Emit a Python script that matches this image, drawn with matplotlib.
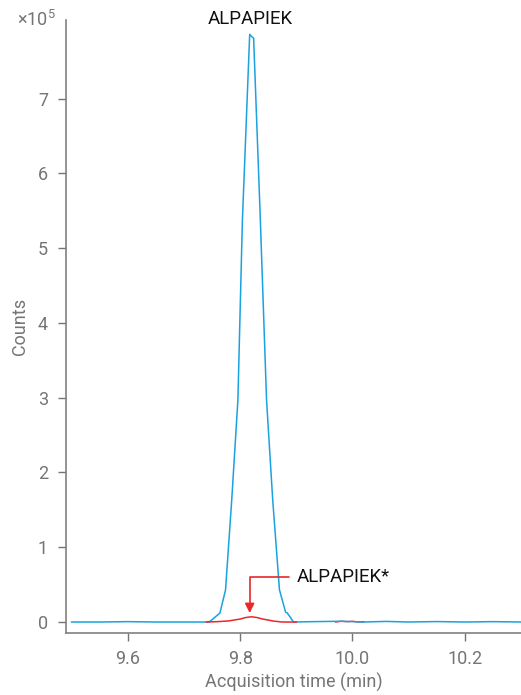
import numpy as np
import matplotlib.pyplot as plt

plt.rcParams['font.family'] = ['Roboto', 'DejaVu Sans']
plt.rcParams['mathtext.default'] = 'regular'

# blue trace (counts in units of 1e5)
t_blue = [9.50, 9.55, 9.60, 9.65, 9.70, 9.745, 9.764, 9.774, 9.785, 9.796, 9.804,
          9.817, 9.822, 9.824, 9.836, 9.847, 9.858, 9.870, 9.881, 9.884, 9.895,
          9.93, 9.98, 10.02, 10.06, 10.10, 10.15, 10.20, 10.25, 10.30]
v_blue = [0.0, 0.0, 0.005, 0.0, 0.0, 0.0, 0.12, 0.43, 1.63, 2.97, 5.37,
          7.86, 7.82, 7.81, 5.37, 2.97, 1.63, 0.43, 0.13, 0.12, 0.0,
          0.005, 0.01, 0.0, 0.008, 0.0, 0.006, 0.0, 0.005, 0.0]

# red trace
t_red = [9.74, 9.76, 9.78, 9.80, 9.81, 9.82, 9.83, 9.84, 9.86, 9.875, 9.89, 9.90]
v_red = [0.0, 0.005, 0.015, 0.04, 0.06, 0.07, 0.06, 0.04, 0.012, 0.0, 0.0, 0.0]
t_red2 = [9.97, 9.98, 9.99, 10.00, 10.01, 10.02]
v_red2 = [0.0, 0.01, 0.005, 0.01, 0.0, 0.005]

xticks = [9.6, 9.8, 10.0, 10.2]
yticks = [0, 1, 2, 3, 4, 5, 6, 7]

blue = '#18a2df'
red = '#e8282b'
gray = '#757575'

fig = plt.figure(figsize=(5.21, 6.95), dpi=100)
ax = fig.add_axes([0.1267, 0.0892, 0.8733, 0.8818])

ax.plot(t_blue, v_blue, color=blue, lw=1.1, zorder=2)
ax.plot(t_red, v_red, color=red, lw=1.1, zorder=3)
ax.plot(t_red2, v_red2, color=red, lw=1.0, zorder=1)

ax.set_xlim(9.49, 10.30)
ax.set_ylim(-0.147, 8.05)
ax.set_xticks(xticks)
ax.set_xticklabels(['%.1f' % x for x in xticks])
ax.set_yticks(yticks)

for s in ['top', 'right']:
    ax.spines[s].set_visible(False)
for s in ['left', 'bottom']:
    ax.spines[s].set_color('#808080')
    ax.spines[s].set_linewidth(1.2)
ax.tick_params(colors=gray, labelsize=13, length=6, width=1, direction='out')
ax.tick_params(axis='x', pad=6)
ax.tick_params(axis='y', pad=7)

ax.set_xlabel('Acquisition time (min)', fontsize=13, color=gray, labelpad=4)
ax.set_ylabel('Counts', fontsize=13, color=gray, labelpad=6)
ax.text(-0.022, 1.0, '×10$^{5}$', transform=ax.transAxes, ha='right', va='center',
        fontsize=13, color=gray)

ax.text(9.818, 7.95, 'ALPAPIEK', ha='center', va='bottom', fontsize=13.5,
        color='#111111', clip_on=False)
ax.annotate('ALPAPIEK*', xy=(9.817, 0.12), xytext=(9.90, 0.6),
            ha='left', va='center', fontsize=13.5, color='#111111',
            arrowprops=dict(arrowstyle='-|>', color=red, lw=1.2,
                            mutation_scale=14, shrinkA=3, shrinkB=0,
                            connectionstyle='angle,angleA=0,angleB=90,rad=0'))

fig.savefig('out.png', dpi=100)
